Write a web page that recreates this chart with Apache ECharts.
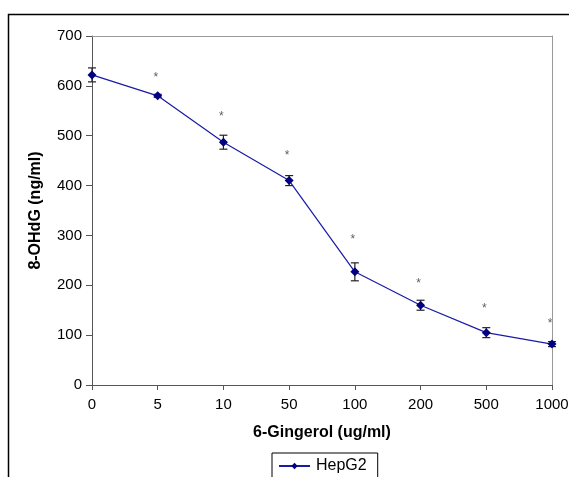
<!DOCTYPE html>
<html>
<head>
<meta charset="utf-8">
<script src="https://cdn.jsdelivr.net/npm/echarts@6/dist/echarts.min.js"></script>
<style>
  html, body { margin: 0; padding: 0; background: #fff; }
  #chart { width: 569px; height: 477px; }
</style>
</head>
<body>
<div id="chart"></div>
<script>
// dose of 6-gingerol, ug/ml
const doses = ['0', '5', '10', '50', '100', '200', '500', '1000'];
// 8-OHdG in HepG2, ng/ml
const hepg2 = [622, 580, 487, 410, 227, 160, 105, 82];
const hepg2Err = [14, 3, 14, 10, 18, 10, 10, 5];
// height of the significance marks
const starHeights = [null, 622, 545, 465, 297, 209, 160, 128];

const chart = echarts.init(document.getElementById('chart'));

const font = 'Liberation Sans, Arial, sans-serif';

const option = {
  animation: false,
  backgroundColor: '#fff',
  grid: { left: 92, top: 36, right: 17, bottom: 92, outerBoundsMode: 'none' },
  legend: {
    data: ['HepG2'],
    left: 272,
    top: 453,
    itemWidth: 31,
    itemHeight: 8,
    padding: [5, 11, 8, 6],
    borderColor: '#000',
    borderWidth: 1,
    textStyle: { fontFamily: font, fontSize: 16, color: '#000', padding: [0, 0, 0, 1] }
  },
  xAxis: [{
    type: 'category',
    data: doses,
    boundaryGap: false,
    name: '6-Gingerol (ug/ml)',
    nameLocation: 'middle',
    nameGap: 40,
    nameTextStyle: { fontFamily: font, fontSize: 16, fontWeight: 'bold', color: '#000' },
    axisLine: { lineStyle: { color: '#555', width: 1 } },
    axisTick: { alignWithLabel: true, length: 5, lineStyle: { color: '#555' } },
    axisLabel: { fontFamily: font, fontSize: 15, color: '#000', margin: 12 },
    splitLine: { show: false }
  }, {
    type: 'category',
    data: doses,
    boundaryGap: false,
    position: 'top',
    axisLine: { show: true, onZero: false, lineStyle: { color: '#999', width: 1 } },
    axisTick: { show: false },
    axisLabel: { show: false },
    splitLine: { show: false }
  }],
  yAxis: [{
    type: 'value',
    min: 0,
    max: 700,
    interval: 100,
    name: '8-OHdG (ng/ml)',
    nameLocation: 'middle',
    nameGap: 48,
    nameTextStyle: { fontFamily: font, fontSize: 16, fontWeight: 'bold', color: '#000' },
    axisLine: { show: true, lineStyle: { color: '#555', width: 1 } },
    axisTick: { show: true, length: 6, lineStyle: { color: '#555' } },
    axisLabel: { fontFamily: font, fontSize: 15, color: '#000', margin: 10 },
    splitLine: { show: false }
  }, {
    type: 'value',
    min: 0,
    max: 700,
    interval: 100,
    position: 'right',
    axisLine: { show: true, onZero: false, lineStyle: { color: '#999', width: 1 } },
    axisTick: { show: false },
    axisLabel: { show: false },
    splitLine: { show: false }
  }],
  series: [{
    name: 'HepG2',
    type: 'line',
    data: hepg2,
    symbol: 'diamond',
    symbolSize: 9,
    lineStyle: { color: '#1a1aa6', width: 1.2 },
    itemStyle: { color: '#000080' },
    z: 3
  }, {
    name: 'error',
    type: 'custom',
    data: hepg2.map((v, i) => [i, v, hepg2Err[i]]),
    renderItem: function (params, api) {
      const i = api.value(0);
      const v = api.value(1);
      const e = api.value(2);
      const hi = api.coord([i, v + e]);
      const lo = api.coord([i, v - e]);
      const w = 4;
      const style = { stroke: '#222', lineWidth: 1.2 };
      return {
        type: 'group',
        children: [
          { type: 'line', shape: { x1: hi[0], y1: hi[1], x2: lo[0], y2: lo[1] }, style },
          { type: 'line', shape: { x1: hi[0] - w, y1: hi[1], x2: hi[0] + w, y2: hi[1] }, style },
          { type: 'line', shape: { x1: lo[0] - w, y1: lo[1], x2: lo[0] + w, y2: lo[1] }, style }
        ]
      };
    },
    z: 2
  }, {
    name: 'stars',
    type: 'scatter',
    data: starHeights,
    symbolSize: 0,
    label: {
      show: true,
      position: 'inside',
      offset: [-2, 3],
      formatter: '*',
      fontFamily: font,
      fontSize: 12,
      color: '#333'
    }
  }],
  graphic: [
    { type: 'line', shape: { x1: 8.5, y1: 14, x2: 8.5, y2: 477 }, style: { stroke: '#000', lineWidth: 1.5 } },
    { type: 'line', shape: { x1: 8, y1: 14.5, x2: 569, y2: 14.5 }, style: { stroke: '#000', lineWidth: 1.5 } }
  ]
};

chart.setOption(option);
</script>
</body>
</html>
